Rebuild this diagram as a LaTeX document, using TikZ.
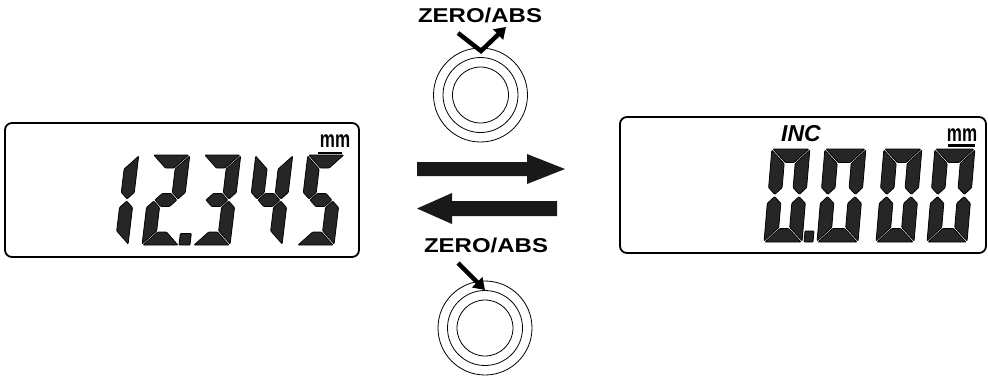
\documentclass[tikz,border=0pt]{standalone}
\usepackage{fontspec}
\setmainfont{Liberation Sans}
\usetikzlibrary{arrows.meta}

% seven segment pieces, local units, origin at bottom left of the cell
\newcommand\dgG{1.1}
\newcommand\sega{({\dgG},{\dgH}) -- ({\dgW-\dgG},{\dgH}) -- ({\dgW-\dgG-\dgT},{\dgH-\dgT}) -- ({\dgG+\dgT},{\dgH-\dgT}) -- cycle}
\newcommand\segd{({\dgG},0) -- ({\dgW-\dgG},0) -- ({\dgW-\dgG-\dgT},{\dgT}) -- ({\dgG+\dgT},{\dgT}) -- cycle}
\newcommand\segg{({\dgT/2+\dgG},{\dgH/2}) -- ({\dgT+\dgG},{\dgH/2+\dgT/2}) -- ({\dgW-\dgT-\dgG},{\dgH/2+\dgT/2}) -- ({\dgW-\dgT/2-\dgG},{\dgH/2}) -- ({\dgW-\dgT-\dgG},{\dgH/2-\dgT/2}) -- ({\dgT+\dgG},{\dgH/2-\dgT/2}) -- cycle}
\newcommand\segf{(0,{\dgH-\dgG}) -- ({\dgT},{\dgH-\dgG-\dgT}) -- ({\dgT},{\dgH/2+\dgG+\dgT/2}) -- ({\dgT/2},{\dgH/2+\dgG}) -- (0,{\dgH/2+\dgG+\dgT/2}) -- cycle}
\newcommand\sege{(0,{\dgG}) -- ({\dgT},{\dgG+\dgT}) -- ({\dgT},{\dgH/2-\dgG-\dgT/2}) -- ({\dgT/2},{\dgH/2-\dgG}) -- (0,{\dgH/2-\dgG-\dgT/2}) -- cycle}
\newcommand\segb{({\dgW},{\dgH-\dgG}) -- ({\dgW-\dgT},{\dgH-\dgG-\dgT}) -- ({\dgW-\dgT},{\dgH/2+\dgG+\dgT/2}) -- ({\dgW-\dgT/2},{\dgH/2+\dgG}) -- ({\dgW},{\dgH/2+\dgG+\dgT/2}) -- cycle}
\newcommand\segc{({\dgW},{\dgG}) -- ({\dgW-\dgT},{\dgG+\dgT}) -- ({\dgW-\dgT},{\dgH/2-\dgG-\dgT/2}) -- ({\dgW-\dgT/2},{\dgH/2-\dgG}) -- ({\dgW},{\dgH/2-\dgG-\dgT/2}) -- cycle}
\newcommand\lcdsegpath[1]{\fill[segfill] #1;}
\newcommand\lcdseg[1]{\expandafter\lcdsegpath\csname seg#1\endcsname}
% x, y (bottom), width, height, slant, thickness, segments
\newcommand\lcddigit[7]{%
  \begin{scope}[shift={(#1,#2)}, y=1pt, xslant=#5]
    \def\dgW{#3}\def\dgH{#4}\def\dgT{#6}
    \foreach \s in {#7} {\lcdseg{\s}}
  \end{scope}}

\tikzset{
  segfill/.style={fill=black!85, draw=black, line width=0.8pt, rounded corners=0.8pt},
  lcdframe/.style={draw, line width=1.8pt, rounded corners=7pt},
  ring/.style={draw, line width=0.8pt},
  press/.style={line width=4.5pt, line join=miter, -{Triangle[length=11pt,width=14pt]}},
  blockarrow/.style={fill=black!90},
  keyname/.style={font=\fontsize{20}{20}\selectfont\bfseries, inner sep=0pt},
  unit/.style={font=\fontsize{17}{17}\selectfont\bfseries, inner sep=0pt}
}

\begin{document}
\begin{tikzpicture}[x=1pt,y=-1pt]
  \useasboundingbox (0,0) rectangle (988,376);

  % absolute display
  \draw[lcdframe] (5,123) rectangle (359,257);
  \lcddigit{91}{245}{37}{90}{0.12}{13}{b,c}
  \lcddigit{142}{245}{37}{90}{0.12}{13}{a,b,g,e,d}
  \lcddigit{193}{245}{37}{90}{0.12}{13}{a,b,g,c,d}
  \lcddigit{245}{245}{37}{90}{0.12}{13}{f,g,b,c}
  \lcddigit{297}{245}{37}{90}{0.12}{13}{a,f,g,c,d}
  \fill[segfill] (179,245) -- (190,245) -- (191.3,233.5) -- (180.3,233.5) -- cycle;
  \fill (318,151.5) rectangle (342,154);
  \node[unit] (mmabs) at (335,141) {\scalebox{1}[1.4]{mm}};

  % incremental display
  \draw[lcdframe] (620,117) rectangle (986,253);
  \lcddigit{764}{242}{38}{93}{0.085}{13.5}{a,b,c,d,e,f}
  \lcddigit{817}{242}{41}{93}{0.085}{13.5}{a,b,c,d,e,f}
  \lcddigit{876}{242}{38}{93}{0.085}{13.5}{a,b,c,d,e,f}
  \lcddigit{927}{242}{40}{93}{0.085}{13.5}{a,b,c,d,e,f}
  \fill[segfill] (804,242) -- (813,242) -- (814,231) -- (805,231) -- cycle;
  \fill (948,144) rectangle (975,146.5);
  \node[unit] (mminc) at (962,135) {\scalebox{1}[1.4]{mm}};
  \node[font=\fontsize{23}{23}\selectfont\bfseries\itshape, inner sep=0pt] (inc) at (801,133.5) {INC};

  % mode change arrows
  \fill[blockarrow] (417,162) -- (527,162) -- (527,154) -- (565,169) -- (527,184) -- (527,176) -- (417,176) -- cycle;
  \fill[blockarrow] (557,201) -- (452,201) -- (452,193) -- (417,208.5) -- (452,224) -- (452,216) -- (557,216) -- cycle;

  % upper key
  \coordinate (keytop) at (480.5,95);
  \foreach \r in {47,37.5,28} \draw[ring] (keytop) circle (\r);
  \node[keyname] (labeltop) at (480,15) {\scalebox{1.2}[1]{ZERO/ABS}};
  \coordinate (vleft) at (458,33);
  \coordinate (vtip) at (481,51);
  \coordinate (vend) at (506,27);
  \draw[press] (vleft) -- (vtip) -- (vend);

  % lower key
  \coordinate (keybot) at (485,328);
  \foreach \r in {47,37.5,28} \draw[ring] (keybot) circle (\r);
  \node[keyname] (labelbot) at (486,245.5) {\scalebox{1.2}[1]{ZERO/ABS}};
  \coordinate (pushfrom) at (458,263);
  \coordinate (pushto) at (485,290);
  \draw[press] (pushfrom) -- (pushto);
\end{tikzpicture}
\end{document}
